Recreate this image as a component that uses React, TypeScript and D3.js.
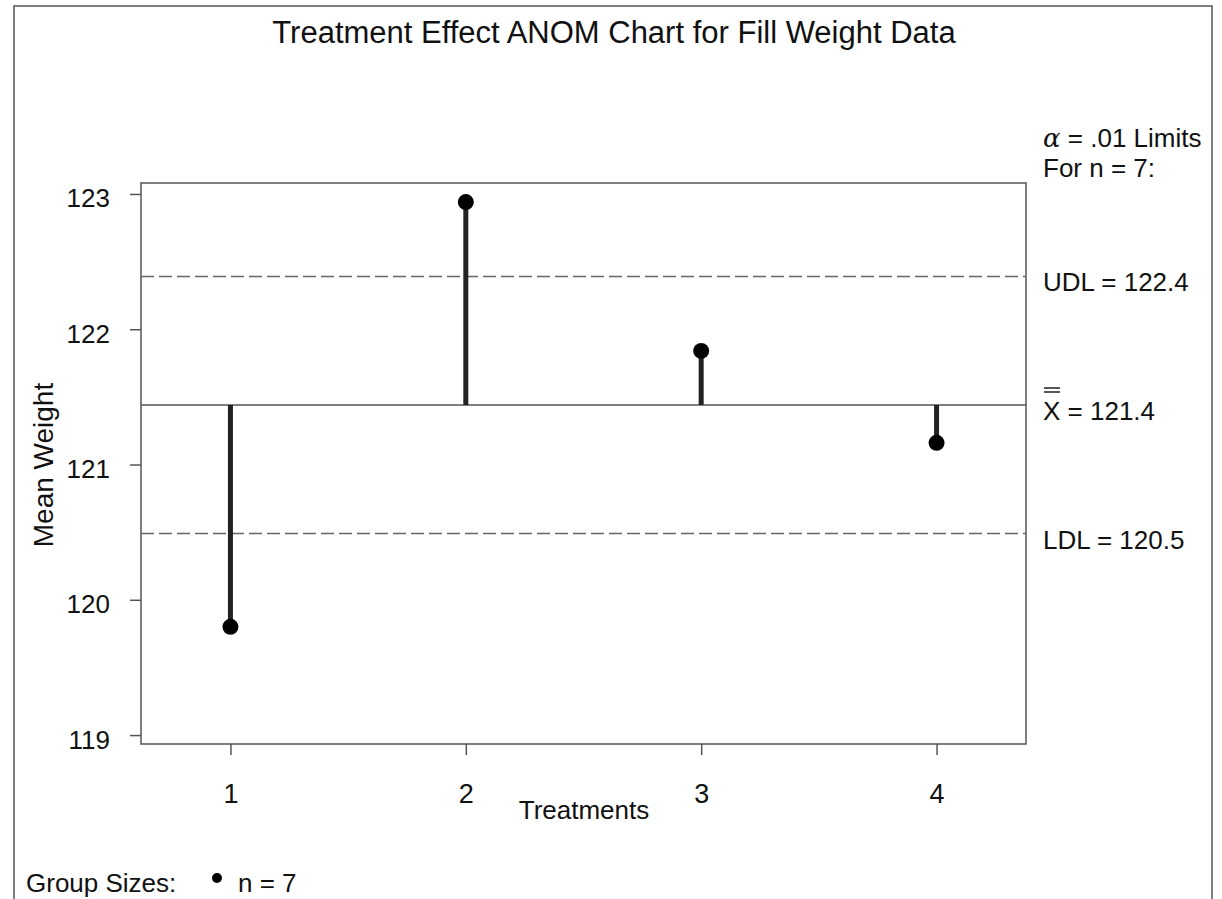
import React, { Component } from "react";
import * as d3 from "d3";

// treatment means
const treatments = ["1", "2", "3", "4"];
const means = [119.8, 122.94, 121.84, 121.16];
const yTicks = [119, 120, 121, 122, 123];

// decision limits
const centerLine = 121.44;
const udl = 122.39;
const ldl = 120.49;
const centerLabel = "121.4";
const udlLabel = "122.4";
const ldlLabel = "120.5";
const groupSize = 7;

const FONT = "'Liberation Sans', Arial, Helvetica, sans-serif";

class App extends Component {
  svgRef = React.createRef<SVGSVGElement>();

  componentDidMount() {
    const svg = d3.select(this.svgRef.current);
    svg.selectAll("*").remove();

    const left = 141, right = 1026, top = 183, bottom = 744;

    const xScale = d3.scalePoint().domain(treatments).range([left, right]).padding(0.38);
    const yScale = d3.scaleLinear().domain([118.934, 123.081]).range([bottom, top]);

    // outer frame (bottom edge runs off the page)
    svg.append("rect").attr("x", 14).attr("y", 6).attr("width", 1198).attr("height", 920)
      .attr("fill", "none").attr("stroke", "#555").attr("stroke-width", 1.5);

    // title
    svg.append("text").attr("x", 614).attr("y", 43).attr("text-anchor", "middle")
      .style("font-size", "31px").style("font-family", FONT).attr("fill", "#111")
      .text("Treatment Effect ANOM Chart for Fill Weight Data");

    // plot frame
    svg.append("rect").attr("x", left).attr("y", top).attr("width", right - left).attr("height", bottom - top)
      .attr("fill", "none").attr("stroke", "#555").attr("stroke-width", 1.5);

    // y axis
    const yAxis = svg.append("g").attr("transform", `translate(${left},0)`)
      .call(d3.axisLeft(yScale).tickValues(yTicks).tickSize(11).tickPadding(20).tickFormat(d3.format("d")));
    yAxis.select(".domain").remove();
    yAxis.selectAll("line").attr("stroke", "#555").attr("stroke-width", 1.5);
    yAxis.selectAll("text").attr("dy", 13).style("font-size", "26px").style("font-family", FONT).attr("fill", "#111");

    // x axis
    const xAxis = svg.append("g").attr("transform", `translate(0,${bottom})`)
      .call(d3.axisBottom(xScale).tickSize(11));
    xAxis.select(".domain").remove();
    xAxis.selectAll("line").attr("stroke", "#555").attr("stroke-width", 1.5);
    xAxis.selectAll("text").attr("y", 59).attr("dy", 0)
      .style("font-size", "27px").style("font-family", FONT).attr("fill", "#111");

    // axis titles
    svg.append("text").attr("transform", `translate(53,465) rotate(-90)`).attr("text-anchor", "middle")
      .style("font-size", "28px").style("font-family", FONT).attr("fill", "#111").text("Mean Weight");
    svg.append("text").attr("x", 584).attr("y", 819).attr("text-anchor", "middle")
      .style("font-size", "26px").style("font-family", FONT).attr("fill", "#111").text("Treatments");

    // limit lines
    svg.selectAll(".limit").data([udl, ldl]).join("line").attr("class", "limit")
      .attr("x1", left).attr("x2", right).attr("y1", d => yScale(d)).attr("y2", d => yScale(d))
      .attr("stroke", "#666").attr("stroke-width", 1.5).attr("stroke-dasharray", "13,5");
    svg.append("line").attr("x1", left).attr("x2", right).attr("y1", yScale(centerLine)).attr("y2", yScale(centerLine))
      .attr("stroke", "#555").attr("stroke-width", 1.5);

    // needles
    svg.selectAll(".needle").data(means).join("line").attr("class", "needle")
      .attr("x1", (d, i) => xScale(treatments[i])).attr("x2", (d, i) => xScale(treatments[i]))
      .attr("y1", yScale(centerLine)).attr("y2", d => yScale(d))
      .attr("stroke", "#222").attr("stroke-width", 5);
    svg.selectAll(".dot").data(means).join("circle").attr("class", "dot")
      .attr("cx", (d, i) => xScale(treatments[i])).attr("cy", d => yScale(d)).attr("r", 8).attr("fill", "#000");

    // right side labels
    const lab = svg.append("g").style("font-family", FONT).style("font-size", "26px").attr("fill", "#111");
    const alpha = lab.append("text").attr("x", 1043).attr("y", 147);
    alpha.append("tspan").style("font-family", "'DejaVu Serif', serif").style("font-style", "italic").text("α");
    alpha.append("tspan").text(" = .01  Limits");
    lab.append("text").attr("x", 1043).attr("y", 177).text(`For  n = ${groupSize}:`);
    lab.append("text").attr("x", 1043).attr("y", yScale(udl) + 15).text(`UDL = ${udlLabel}`);
    lab.append("text").attr("x", 1043).attr("y", yScale(ldl) + 15).text(`LDL = ${ldlLabel}`);
    lab.append("text").attr("x", 1043).attr("y", yScale(centerLine) + 15).text(`X = ${centerLabel}`);
    // double bar over X
    [0, 4].forEach(o => {
      lab.append("line").attr("x1", 1044).attr("x2", 1060)
        .attr("y1", yScale(centerLine) - 17 + o).attr("y2", yScale(centerLine) - 17 + o)
        .attr("stroke", "#111").attr("stroke-width", 1.4);
    });

    // group size legend
    svg.append("text").attr("x", 26).attr("y", 892).style("font-size", "26px").style("font-family", FONT)
      .attr("fill", "#111").text("Group  Sizes:");
    svg.append("circle").attr("cx", 217).attr("cy", 878).attr("r", 5).attr("fill", "#000");
    svg.append("text").attr("x", 238).attr("y", 892).style("font-size", "26px").style("font-family", FONT)
      .attr("fill", "#111").text(`n = ${groupSize}`);
  }

  render() {
    return (
      <svg ref={this.svgRef} width={1222} height={899}
        style={{ position: "absolute", left: 0, top: 0, background: "#fff" }}></svg>
    );
  }
}

export default App;
